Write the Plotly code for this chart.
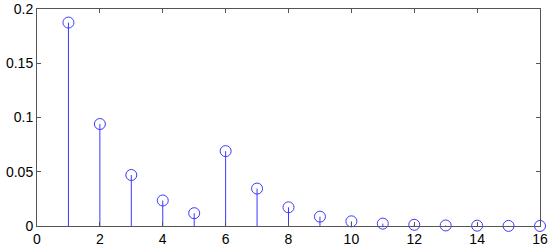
import plotly.graph_objects as go

x_vals = list(range(1, 17))
y_vals = [0.1875, 0.094, 0.047, 0.0235, 0.0118, 0.069, 0.0345, 0.0172, 0.0086,
          0.0043, 0.0022, 0.0011, 0.0005, 0.0003, 0.0001, 0.00005]
x_ticks = [0, 2, 4, 6, 8, 10, 12, 14, 16]
y_ticks = [0, 0.05, 0.1, 0.15, 0.2]
y_tick_labels = ["0", "0.05", "0.1", "0.15", "0.2"]

# stems
sx, sy = [], []
for xv, yv in zip(x_vals, y_vals):
    sx += [xv, xv, None]
    sy += [0, yv, None]

fig = go.Figure()
fig.add_trace(go.Scatter(x=sx, y=sy, mode="lines",
                         line=dict(color="#3a3aff", width=1), hoverinfo="skip",
                         cliponaxis=False))
fig.add_trace(go.Scatter(x=x_vals, y=y_vals, mode="markers", cliponaxis=False,
                         marker=dict(symbol="circle-open", size=11,
                                     color="#3a3aff", line=dict(width=1))))

axis_common = dict(showgrid=False, zeroline=False, showline=True, linecolor="#555555",
                   linewidth=1, mirror="ticks", ticks="inside", ticklen=4,
                   tickcolor="#555555", automargin=False,
                   tickfont=dict(family="Liberation Sans, Arial", size=14, color="black"))
fig.update_xaxes(range=[0, 16], tickvals=x_ticks, **axis_common)
fig.update_yaxes(range=[0, 0.2], tickvals=y_ticks, ticktext=y_tick_labels, **axis_common)

fig.update_layout(width=550, height=249, showlegend=False,
                  margin=dict(l=37, r=10, t=9, b=23),
                  plot_bgcolor="white", paper_bgcolor="white")
fig.write_html("out.html", config={"displayModeBar": False},
               post_script="document.body.style.margin='0';document.body.style.overflow='hidden';")
